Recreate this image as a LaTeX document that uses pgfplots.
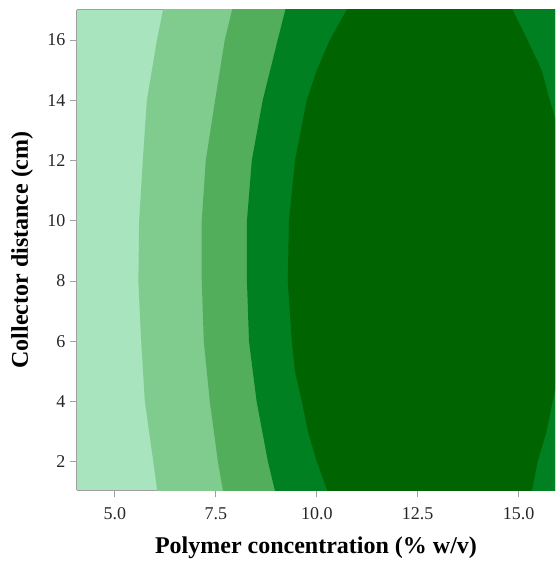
\documentclass[border=0pt]{standalone}
\usepackage{pgfplots}
\pgfplotsset{compat=1.18}
\usepackage{fontspec}
\setmainfont{Liberation Serif}
\definecolor{c1}{RGB}{168,228,190}
\definecolor{c2}{RGB}{128,204,142}
\definecolor{c3}{RGB}{82,174,90}
\definecolor{c4}{RGB}{0,128,32}
\definecolor{c5}{RGB}{0,100,0}
\begin{document}
\begin{tikzpicture}[x=1pt,y=1pt]
\useasboundingbox (0,0) rectangle (555,563);
\begin{axis}[at={(77pt,73pt)}, anchor=south west,
  width=478pt, height=480pt, scale only axis,
  xmin=4.06, xmax=15.9, ymin=1.06, ymax=17,
  axis x line=box, axis y line=left,
  axis line style={-, draw=gray!75, line width=1pt},
  axis background/.style={fill=c1},
  xtick={5,7.5,10,12.5,15}, xticklabels={5.0,7.5,10.0,12.5,15.0},
  ytick={2,4,6,8,10,12,14,16},
  xtick pos=bottom, ytick pos=left,
  tick style={gray!75, line width=1pt}, tick align=outside, major tick length=7pt,
  /pgf/number format/assume math mode=true,
  ticklabel style={font=\fontsize{18}{20}\selectfont, text=black!85},
  xticklabel style={yshift=-7pt},
  yticklabel style={xshift=-1pt},
  xlabel={Polymer concentration (\% w/v)},
  ylabel={Collector distance (cm)},
  xlabel style={font=\fontsize{24}{28}\selectfont\bfseries, at={(axis description cs:0.5,0)}, anchor=center, yshift=-58pt},
  every axis y label/.style={font=\fontsize{24}{28}\selectfont\bfseries, at={(axis description cs:0,0.5)}, anchor=center, rotate=90, yshift=55pt},
  clip=true,
]
\addplot[fill=c2, draw=none] coordinates {(6.05,0.5) (6.05,1) (5.95,2) (5.74,4) (5.65,6) (5.58,8) (5.6,10) (5.69,12) (5.79,14) (6.04,16) (6.19,17) (6.25,17.5) (17,17.5) (17,0.5)} -- cycle;
\addplot[fill=c3, draw=none] coordinates {(7.68,0.5) (7.68,1) (7.55,2) (7.35,4) (7.2,6) (7.15,8) (7.15,10) (7.25,12) (7.48,14) (7.72,16) (7.9,17) (7.95,17.5) (17,17.5) (17,0.5)} -- cycle;
\addplot[fill=c4, draw=none] coordinates {(8.97,0.5) (8.97,1) (8.79,2) (8.51,4) (8.32,6) (8.27,8) (8.27,10) (8.39,12) (8.66,14) (9.03,16) (9.22,17) (9.3,17.5) (17,17.5) (17,0.5)} -- cycle;
\addplot[fill=c5, draw=none] coordinates {(10.3,0.5) (10.27,1) (10.0,2) (9.78,3) (9.63,4) (9.46,5) (9.38,6) (9.28,8) (9.31,10) (9.46,12) (9.75,14) (10.0,15) (10.32,16) (10.74,17) (10.9,17.5) (14.7,17.5) (14.85,17) (15.22,16) (15.57,15) (15.77,14) (16.0,13) (16.4,9) (16.0,5) (15.84,4) (15.69,3) (15.47,2) (15.32,1) (15.28,0.5)} -- cycle;
\end{axis}
\end{tikzpicture}
\end{document}
